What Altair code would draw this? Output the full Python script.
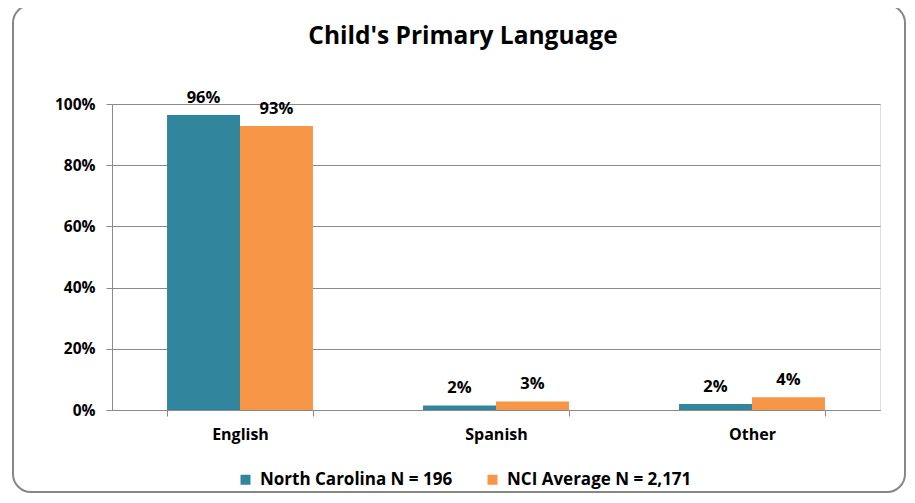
import altair as alt
import pandas as pd

languages = ["English", "Spanish", "Other"]
series = ["North Carolina N = 196", "NCI Average N = 2,171"]
nc_values = [96.4, 1.5, 2.0]
nci_values = [92.8, 2.8, 4.2]
nc_labels = ["96%", "2%", "2%"]
nci_labels = ["93%", "3%", "4%"]
colors = ["#31859C", "#F79646"]
y_ticks = [0, 0.2, 0.4, 0.6, 0.8, 1.0]

rows = []
for i, lang in enumerate(languages):
    rows.append({"lang": lang, "series": series[0], "value": nc_values[i] / 100, "label": nc_labels[i]})
    rows.append({"lang": lang, "series": series[1], "value": nci_values[i] / 100, "label": nci_labels[i]})
df = pd.DataFrame(rows)

FONT = "Open Sans"
GRAY = "#8a8a8a"

x_enc = alt.X(
    "lang:N",
    sort=languages,
    scale=alt.Scale(paddingInner=0.43, paddingOuter=0.215),
    axis=alt.Axis(
        title=None, labelAngle=0, tickBand="extent", grid=False,
        domainColor=GRAY, tickColor=GRAY, tickSize=6, labelPadding=10,
        labelFont=FONT, labelFontSize=16, labelFontWeight="bold", labelColor="black",
    ),
)
xoff_enc = alt.XOffset("series:N", sort=series, scale=alt.Scale(domain=series, paddingInner=0, paddingOuter=0))
y_enc = alt.Y(
    "value:Q",
    scale=alt.Scale(domain=[0, 1], nice=False),
    axis=alt.Axis(
        title=None, format=".0%", values=y_ticks, grid=True, gridColor=GRAY,
        domainColor=GRAY, tickColor=GRAY, tickSize=6, labelPadding=11,
        labelFont=FONT, labelFontSize=15.5, labelFontWeight="bold", labelColor="black",
    ),
)

border = alt.Chart(pd.DataFrame({"a": [0]})).mark_rect(
    fill="transparent", stroke="#878787", strokeWidth=2, cornerRadius=18
).encode(x=alt.value(-99), x2=alt.value(793), y=alt.value(-99), y2=alt.value(388))

bars = alt.Chart(df).mark_bar().encode(
    x=x_enc,
    xOffset=xoff_enc,
    y=y_enc,
    color=alt.Color(
        "series:N",
        sort=series,
        scale=alt.Scale(domain=series, range=colors),
        legend=alt.Legend(
            title=None, orient="none", legendX=125, legendY=367, direction="horizontal",
            symbolType="square", symbolSize=100, symbolStrokeWidth=0,
            labelFont=FONT, labelFontSize=17, labelFontWeight="bold", labelColor="black",
            columnPadding=31, labelOffset=6, padding=0, labelLimit=400,
        ),
    ),
)

texts = alt.Chart(df).mark_text(
    dy=-12, baseline="alphabetic", fontWeight="bold", fontSize=16.5, font=FONT, color="black"
).encode(x=x_enc, xOffset=xoff_enc, y=y_enc, text="label:N")

chart = alt.layer(border, bars, texts).properties(
    width=768,
    height=306,
    autosize="none",
    padding={"left": 104, "top": 96, "right": 27, "bottom": 85},
    title=alt.Title(
        "Child's Primary Language", font=FONT, fontSize=24.5, fontWeight="bold",
        color="black", offset=-45, dx=-33, anchor="middle",
    ),
).configure_view(fill="#EBEBEB", strokeWidth=0).configure(background="white")

chart.save("out.html", embed_options={"renderer": "svg", "actions": False})
